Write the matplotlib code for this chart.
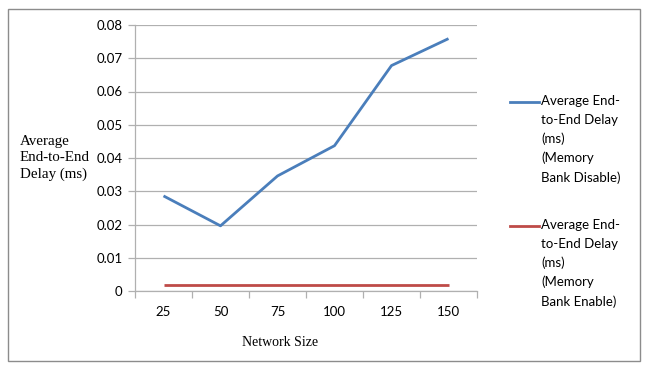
import matplotlib
matplotlib.use("Agg")

import matplotlib.pyplot as plt
from matplotlib.lines import Line2D
from matplotlib.patches import Rectangle

# network sizes and measured delays (ms)
network_sizes = ["25", "50", "75", "100", "125", "150"]
delay_disable = [0.0286, 0.0196, 0.0346, 0.0437, 0.0678, 0.0759]
delay_enable = [0.0017, 0.0017, 0.0017, 0.0017, 0.0017, 0.0017]

label_disable = "Average End-\nto-End Delay\n(ms)\n(Memory\nBank Disable)"
label_enable = "Average End-\nto-End Delay\n(ms)\n(Memory\nBank Enable)"

sans = ["Lato", "DejaVu Sans"]
serif = ["Liberation Serif", "DejaVu Serif"]

fig = plt.figure(figsize=(6.48, 3.67), dpi=100)

# outer chart frame
fig.add_artist(Rectangle((8 / 648, 1 - 361 / 367), 632 / 648, 352 / 367,
                         transform=fig.transFigure, fill=False,
                         edgecolor="#8c8c8c", linewidth=1.0))

ax = fig.add_axes([135 / 648, 1 - 291 / 367, 342 / 648, 266 / 367])

x = list(range(len(network_sizes)))
line_dis, = ax.plot(x, delay_disable, color="#4a7ebb", linewidth=2.0,
                    solid_capstyle="butt", zorder=3)
line_en, = ax.plot(x, delay_enable, color="#be4b48", linewidth=2.0,
                   solid_capstyle="butt", zorder=3)

ax.set_xlim(-0.5, len(network_sizes) - 0.5)
ax.set_ylim(0, 0.08)
ax.set_yticks([i * 0.01 for i in range(9)])
ax.set_yticklabels(["0"] + ["%.2f" % (i * 0.01) for i in range(1, 9)],
                   family=sans, fontsize=9.5)
ax.set_xticks(x)
ax.set_xticklabels(network_sizes, family=sans, fontsize=9.5)
ax.set_xticks([i - 0.5 for i in range(len(network_sizes) + 1)], minor=True)

ax.grid(axis="y", color="#b0b0b0", linewidth=0.9)
ax.set_axisbelow(True)
for side in ["top", "right"]:
    ax.spines[side].set_visible(False)
for side in ["left", "bottom"]:
    ax.spines[side].set_color("#b0b0b0")
    ax.spines[side].set_linewidth(0.9)

ax.tick_params(axis="x", which="major", length=0, pad=11)
ax.tick_params(axis="x", which="minor", length=5, color="#b0b0b0", width=0.9)
ax.tick_params(axis="y", length=5, color="#b0b0b0", width=0.9, pad=4)

fig.text(280 / 648, 1 - 343 / 367, "Network Size", family=serif,
         fontsize=10, ha="center", va="center")
fig.text(20 / 648, 1 - 158 / 367, "Average\nEnd-to-End\nDelay (ms)",
         family=serif, fontsize=10.8, ha="left", va="center", linespacing=1.35)

# legend drawn beside the plot
for line, label, y_top in [(line_dis, label_disable, 102),
                           (line_en, label_enable, 226)]:
    fig.add_artist(Line2D([510 / 648, 539 / 648],
                          [1 - y_top / 367, 1 - y_top / 367],
                          transform=fig.transFigure,
                          color=line.get_color(), linewidth=2.0))
    fig.text(541 / 648, 1 - (y_top - 7) / 367, label, family=sans,
             fontsize=9.5, ha="left", va="top", linespacing=1.65)

fig.savefig("out.png", dpi=100)
